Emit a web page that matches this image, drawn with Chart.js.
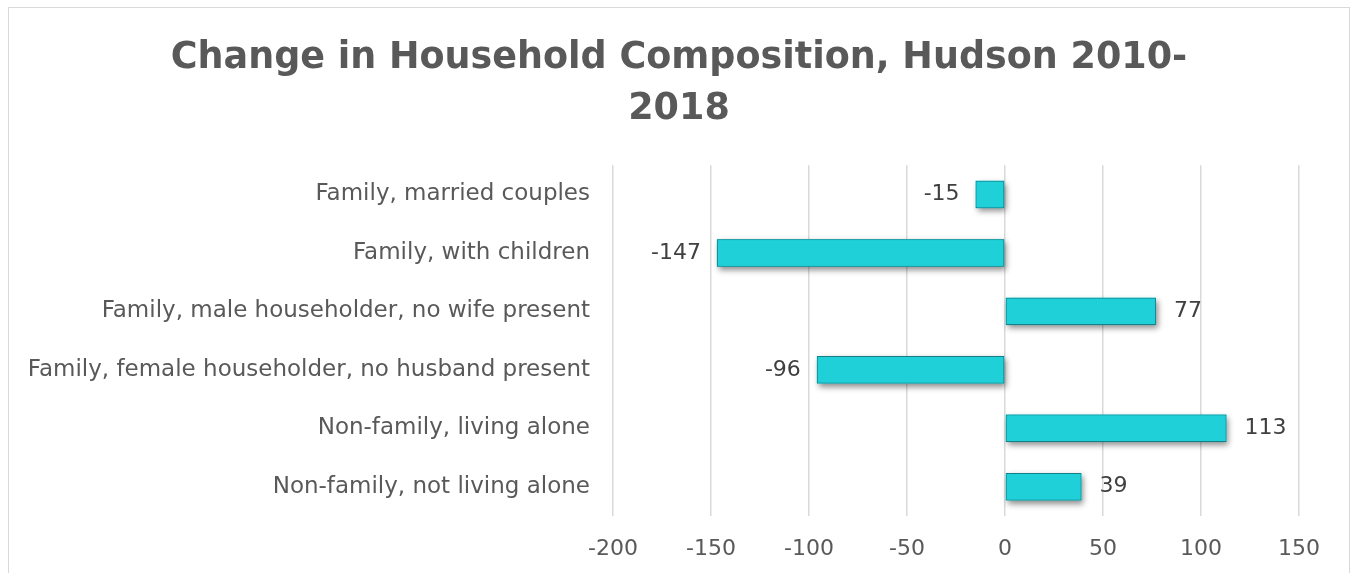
<!DOCTYPE html>
<html>
<head>
<meta charset="utf-8">
<script src="https://cdn.jsdelivr.net/npm/chart.js@4"></script>
<style>
  body { margin: 0; background: #fff; }
  #wrap { position: absolute; left: 8px; top: 7px; width: 1340px; height: 570px; border: 1px solid #d9d9d9; }
  canvas { display: block; }
</style>
</head>
<body>
<div id="wrap"><canvas id="chart" width="1340" height="565"></canvas></div>
<script>
const categories = [
  'Family, married couples',
  'Family, with children',
  'Family, male householder, no wife present',
  'Family, female householder, no husband present',
  'Non-family, living alone',
  'Non-family, not living alone'
];
const changes = [-15, -147, 77, -96, 113, 39];
const xTicks = [-200, -150, -100, -50, 0, 50, 100, 150];

const font = 'DejaVu Sans';
const grey = '#595959';

// bar shadow + value labels
const barExtras = {
  id: 'barExtras',
  beforeDatasetsDraw(chart) {
    const ctx = chart.ctx;
    const meta = chart.getDatasetMeta(0);
    ctx.save();
    ctx.shadowColor = 'rgba(0,0,0,0.45)';
    ctx.shadowBlur = 6;
    ctx.shadowOffsetX = 2;
    ctx.shadowOffsetY = 3;
    ctx.fillStyle = '#1fd0d9';
    meta.data.forEach(bar => {
      const { x, y, base, height } = bar.getProps(['x', 'y', 'base', 'height']);
      ctx.fillRect(Math.min(x, base), y - height / 2, Math.abs(x - base), height);
    });
    ctx.restore();
  },
  afterDatasetsDraw(chart) {
    const ctx = chart.ctx;
    const meta = chart.getDatasetMeta(0);
    ctx.save();
    ctx.font = '22px "' + font + '"';
    ctx.fillStyle = '#404040';
    ctx.textBaseline = 'middle';
    meta.data.forEach((bar, i) => {
      const v = changes[i];
      if (v < 0) {
        ctx.textAlign = 'right';
        ctx.fillText(String(v), bar.x - 16, bar.y);
      } else {
        ctx.textAlign = 'left';
        ctx.fillText(String(v), bar.x + 18, bar.y);
      }
    });
    ctx.restore();
  }
};

new Chart(document.getElementById('chart'), {
  type: 'bar',
  data: {
    labels: categories,
    datasets: [{
      data: changes,
      backgroundColor: '#1fd0d9',
      borderColor: '#137f86',
      borderWidth: 1,
      borderSkipped: false,
      categoryPercentage: 1,
      barPercentage: 0.47
    }]
  },
  options: {
    indexAxis: 'y',
    responsive: false,
    animation: false,
    devicePixelRatio: 1,
    layout: { padding: 0 },
    plugins: {
      legend: { display: false },
      tooltip: { enabled: false },
      title: {
        display: true,
        text: ['Change in Household Composition, Hudson 2010-', '2018'],
        color: grey,
        font: { family: font, size: 36.5, weight: 'bold', lineHeight: 1.4 },
        padding: { top: 25, bottom: 30 }
      }
    },
    scales: {
      x: {
        min: -200,
        max: 150,
        afterBuildTicks(axis) { axis.ticks = xTicks.map(v => ({ value: v })); },
        grid: { color: '#d9d9d9', lineWidth: 1.5, drawTicks: false },
        border: { display: false },
        ticks: { color: grey, font: { family: font, size: 22 }, padding: 20 },
        afterFit(axis) { axis.height = 57; }
      },
      y: {
        grid: { display: false },
        border: { display: false },
        ticks: { color: grey, font: { family: font, size: 23 }, padding: 15 },
        afterFit(axis) { axis.width = 604; }
      },
      // empty right-hand spacer so the title stays centred on the frame
      yRight: {
        type: 'category',
        position: 'right',
        labels: categories,
        grid: { display: false },
        border: { display: false },
        ticks: { display: false },
        afterFit(axis) { axis.width = 50; }
      }
    }
  },
  plugins: [barExtras]
});
</script>
</body>
</html>
